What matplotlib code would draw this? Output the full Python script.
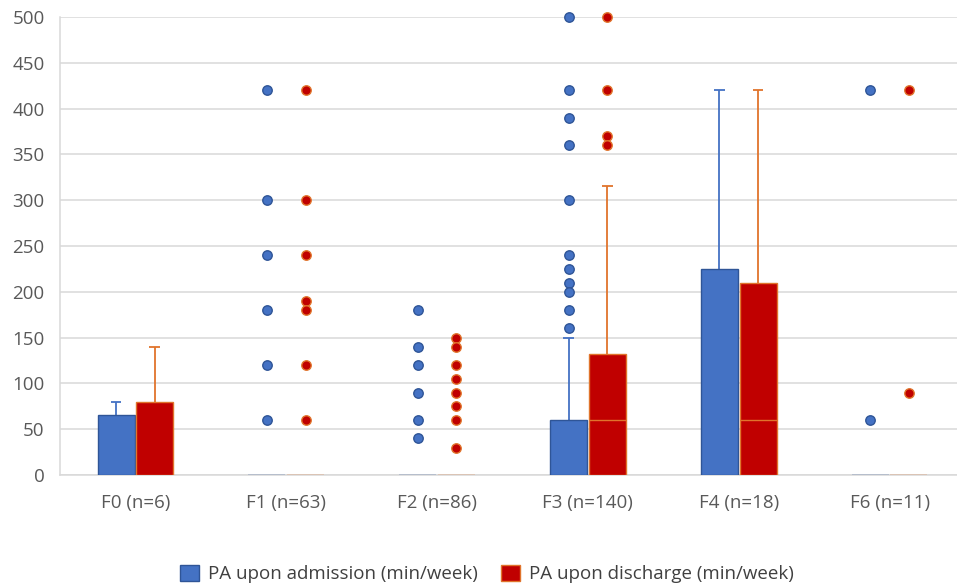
import matplotlib.pyplot as plt
import numpy as np

plt.rcParams['font.family'] = ['Open Sans', 'DejaVu Sans']

categories = ['F0 (n=6)', 'F1 (n=63)', 'F2 (n=86)', 'F3 (n=140)', 'F4 (n=18)', 'F6 (n=11)']

# PA upon admission (min/week)
adm_q1 = [0, 0, 0, 0, 0, 0]
adm_med = [0, 0, 0, 0, 0, 0]
adm_q3 = [65, 0, 0, 60, 225, 0]
adm_whis = [80, 0, 0, 150, 420, 0]
adm_out = [[], [420, 300, 240, 180, 120, 60], [180, 140, 120, 90, 60, 40],
           [500, 420, 390, 360, 300, 240, 225, 210, 200, 180, 160], [], [420, 60]]

# PA upon discharge (min/week)
dis_q1 = [0, 0, 0, 0, 0, 0]
dis_med = [0, 0, 0, 60, 60, 0]
dis_q3 = [80, 0, 0, 132, 210, 0]
dis_whis = [140, 0, 0, 315, 420, 0]
dis_out = [[], [420, 300, 240, 190, 180, 120, 60], [150, 140, 120, 105, 90, 75, 60, 30],
           [500, 420, 370, 360], [], [420, 90]]

series = [
    dict(label='PA upon admission (min/week)', q1=adm_q1, med=adm_med, q3=adm_q3, whis=adm_whis,
         out=adm_out, face='#4472C4', edge='#2F5597', whisk='#4472C4', dot='#4472C4', dotedge='#2F5597', off=-0.128),
    dict(label='PA upon discharge (min/week)', q1=dis_q1, med=dis_med, q3=dis_q3, whis=dis_whis,
         out=dis_out, face='#C00000', edge='#E0742C', whisk='#E0742C', dot='#C00000', dotedge='#E0742C', off=0.128),
]

fig = plt.figure(figsize=(9.57, 5.88), dpi=100)
ax = fig.add_axes([60 / 957, 113 / 588, 905 / 957, 458 / 588])

x = np.arange(len(categories))
w = 0.245
cap = 0.035
for s in series:
    xs = x + s['off']
    q1 = np.array(s['q1'])
    q3 = np.array(s['q3'])
    for i in range(len(x)):
        if q3[i] - q1[i] <= 0:
            # collapsed box
            ax.hlines(q1[i], xs[i] - w / 2, xs[i] + w / 2, color=s['edge'], alpha=0.25, lw=1.2, zorder=3)
            continue
        ax.vlines(xs[i], q3[i], s['whis'][i], color=s['whisk'], lw=1.3, zorder=2)
        ax.hlines(s['whis'][i], xs[i] - cap, xs[i] + cap, color=s['whisk'], lw=1.3, zorder=2)
        ax.bar(xs[i], q3[i] - q1[i], bottom=q1[i], width=w, color=s['face'],
               edgecolor=s['edge'], linewidth=1.0, zorder=3)
        if s['med'][i] > q1[i]:
            ax.hlines(s['med'][i], xs[i] - w / 2, xs[i] + w / 2, color=s['edge'], lw=1.0, zorder=4)
    for i in range(len(x)):
        if s['out'][i]:
            ax.plot([xs[i]] * len(s['out'][i]), s['out'][i], 'o', ms=6.8,
                    color=s['dot'], mec=s['dotedge'], mew=1.0, zorder=5, clip_on=False)
    ax.bar(np.nan, 0, color=s['face'], edgecolor=s['edge'], label=s['label'])

ax.set_xlim(-0.5, len(categories) - 0.5)
ax.set_ylim(0, 500)
ax.set_yticks(np.arange(0, 501, 50))
ax.set_xticks(x)
ax.set_xticklabels(categories)
ax.tick_params(length=0, labelsize=13.5, labelcolor='#595959')
ax.tick_params(axis='x', pad=14)
ax.tick_params(axis='y', pad=11)
ax.grid(axis='y', color='#D9D9D9', lw=1.1, zorder=0)
ax.set_axisbelow(True)
for side in ['top', 'right']:
    ax.spines[side].set_visible(False)
ax.spines['left'].set_color('#D9D9D9')
ax.spines['bottom'].set_color('#D9D9D9')
ax.spines['left'].set_linewidth(1.1)
ax.spines['bottom'].set_linewidth(1.1)

fig.legend(loc='center', bbox_to_anchor=(487 / 957, 14 / 588), ncol=2, frameon=False,
           fontsize=13.5, labelcolor='#404040', handlelength=1.0, handleheight=1.0,
           handletextpad=0.5, columnspacing=1.2)

fig.savefig('out.png', dpi=100)
